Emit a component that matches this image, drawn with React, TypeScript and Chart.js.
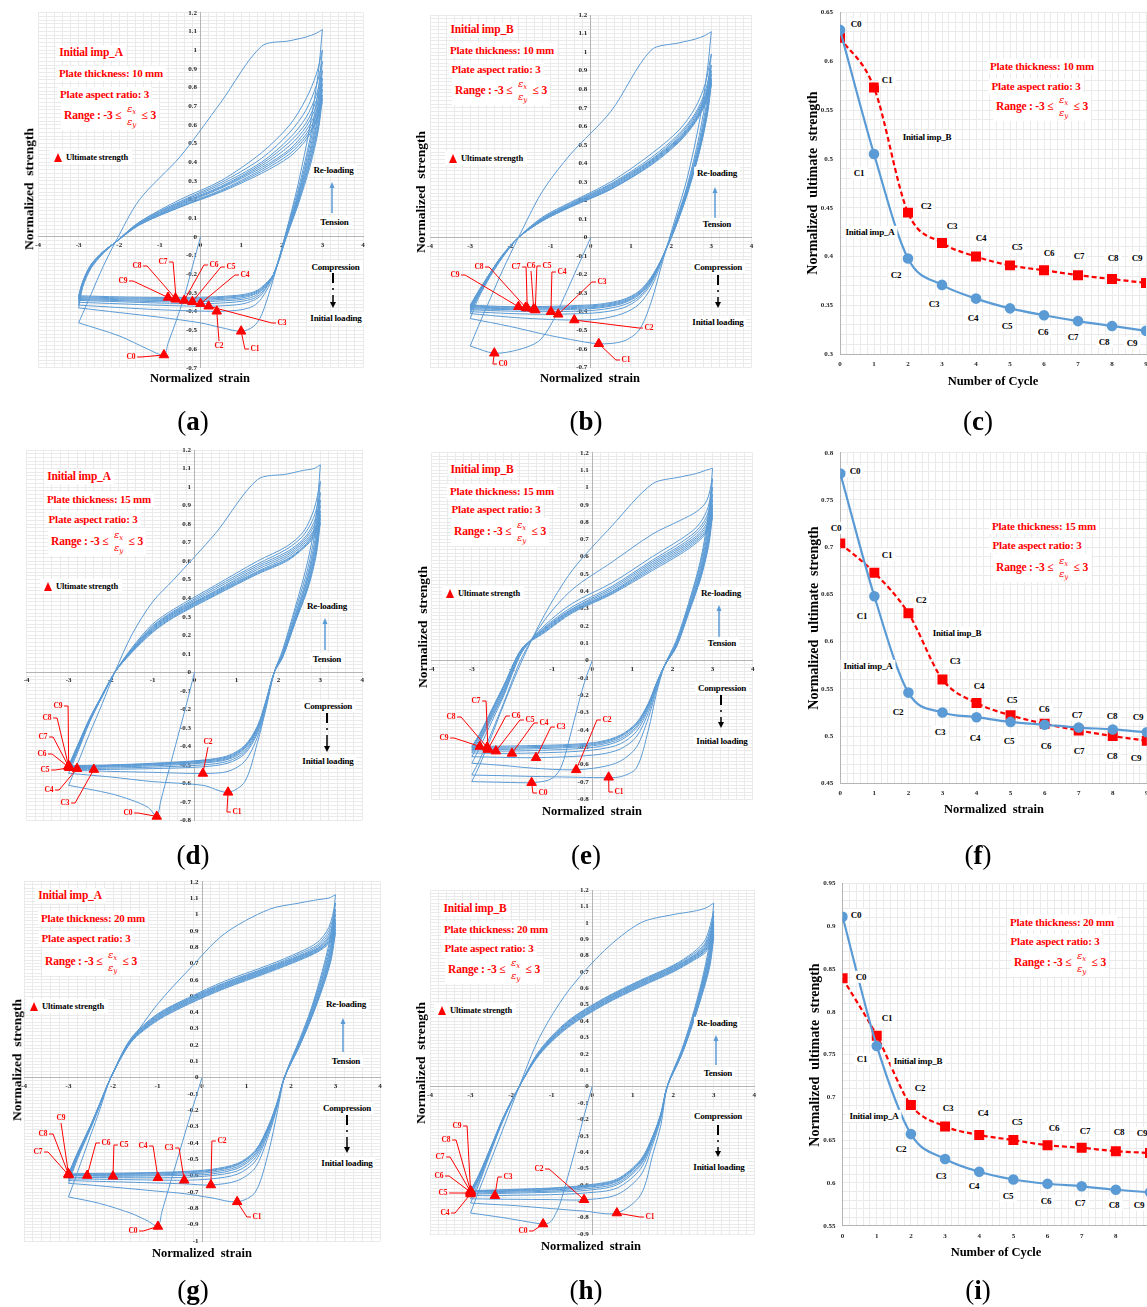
import React, { useEffect, useRef } from 'react';
import { Chart, registerables } from 'chart.js';
Chart.register(...registerables);

const SERIF = '"Liberation Serif", "Times New Roman", serif';
const BLUE = '#5b9bd5';
const RED = '#ff0000';
const GRID = '#eaeaea';
const AXIS = '#b4b4b4';
const TICK_COLOR = '#1f1f1f';

// ---------- Ultimate strength per cycle (panels c, f, i) ----------
const CYCLES = [0, 1, 2, 3, 4, 5, 6, 7, 8, 9];
const ULT_A10 = [0.632, 0.505, 0.398, 0.371, 0.357, 0.347, 0.340, 0.334, 0.329, 0.324];
const ULT_B10 = [0.624, 0.573, 0.445, 0.414, 0.400, 0.391, 0.386, 0.381, 0.377, 0.373];
const ULT_A15 = [0.778, 0.648, 0.546, 0.525, 0.520, 0.515, 0.512, 0.509, 0.507, 0.504];
const ULT_B15 = [0.704, 0.673, 0.630, 0.560, 0.535, 0.522, 0.513, 0.506, 0.500, 0.495];
const ULT_A20 = [0.911, 0.760, 0.657, 0.628, 0.613, 0.604, 0.599, 0.596, 0.592, 0.589];
const ULT_B20 = [0.839, 0.772, 0.691, 0.666, 0.656, 0.650, 0.644, 0.641, 0.637, 0.635];

// ---------- Panel (a): imp_A, 10 mm ----------
const A10_INIT_X = [0, -0.2, -0.4, -0.6, -0.8, -0.9, -1.3, -2.0, -3];
const A10_INIT_Y = [0, -0.16, -0.32, -0.45, -0.57, -0.632, -0.60, -0.53, -0.46];
const A10_TEN_X = [-3, -2.9, -2.7, -2.4, -2.1, -1.5, -0.5, 0.5, 1.5, 2.2, 2.6, 2.85, 3];
const A10_TEN_Y = [
  [-0.46, -0.41, -0.31, -0.16, -0.03, 0.20, 0.43, 0.72, 1.02, 1.05, 1.07, 1.09, 1.11],
  [-0.38, -0.27, -0.17, -0.09, -0.03, 0.08, 0.20, 0.30, 0.45, 0.60, 0.74, 0.87, 1.00],
  [-0.365, -0.26, -0.165, -0.085, -0.03, 0.08, 0.19, 0.29, 0.42, 0.56, 0.68, 0.81, 0.94],
  [-0.35, -0.255, -0.16, -0.085, -0.03, 0.075, 0.185, 0.28, 0.40, 0.53, 0.64, 0.76, 0.89],
  [-0.34, -0.25, -0.16, -0.08, -0.03, 0.075, 0.18, 0.27, 0.39, 0.51, 0.61, 0.73, 0.85],
  [-0.335, -0.25, -0.155, -0.08, -0.03, 0.07, 0.175, 0.265, 0.38, 0.49, 0.59, 0.70, 0.82],
  [-0.33, -0.245, -0.155, -0.08, -0.03, 0.07, 0.17, 0.26, 0.37, 0.47, 0.57, 0.67, 0.79],
  [-0.325, -0.245, -0.15, -0.08, -0.03, 0.07, 0.165, 0.25, 0.36, 0.46, 0.55, 0.65, 0.76],
  [-0.32, -0.24, -0.15, -0.08, -0.03, 0.065, 0.16, 0.245, 0.35, 0.445, 0.535, 0.63, 0.74],
  [-0.315, -0.24, -0.15, -0.08, -0.03, 0.065, 0.16, 0.24, 0.34, 0.43, 0.52, 0.62, 0.72],
];
const A10_COM_X = [3, 2.9, 2.7, 2.4, 2.1, 1.8, 1.5, 1.3, 1.0, 0.5, 0, -1, -2, -3];
const A10_COM_Y = [
  [1.11, 0.88, 0.60, 0.28, 0.02, -0.22, -0.42, -0.48, -0.505, -0.485, -0.46, -0.43, -0.405, -0.38],
  [1.00, 0.79, 0.53, 0.25, 0.02, -0.21, -0.33, -0.37, -0.39, -0.398, -0.397, -0.39, -0.378, -0.365],
  [0.94, 0.74, 0.50, 0.23, 0.01, -0.20, -0.31, -0.34, -0.36, -0.369, -0.371, -0.366, -0.358, -0.35],
  [0.89, 0.70, 0.47, 0.22, 0.01, -0.20, -0.30, -0.33, -0.345, -0.354, -0.357, -0.354, -0.347, -0.34],
  [0.85, 0.66, 0.45, 0.21, 0.0, -0.20, -0.29, -0.32, -0.335, -0.343, -0.346, -0.347, -0.341, -0.335],
  [0.82, 0.64, 0.43, 0.20, 0.0, -0.20, -0.285, -0.31, -0.327, -0.335, -0.339, -0.340, -0.336, -0.33],
  [0.79, 0.61, 0.41, 0.19, 0.0, -0.20, -0.28, -0.305, -0.32, -0.329, -0.333, -0.334, -0.331, -0.325],
  [0.76, 0.59, 0.40, 0.18, -0.01, -0.20, -0.275, -0.30, -0.315, -0.324, -0.328, -0.329, -0.326, -0.32],
  [0.74, 0.57, 0.38, 0.17, -0.01, -0.20, -0.27, -0.295, -0.31, -0.319, -0.323, -0.324, -0.321, -0.315],
];
const A10_ULT_X = [-0.9, 1.0, 0.4, 0.2, 0.0, -0.2, -0.4, -0.6, -0.62, -0.8];

// ---------- Panel (b): imp_B, 10 mm ----------
const B10_INIT_X = [0, -0.33, -0.66, -0.99, -1.3, -1.8, -2.4, -3];
const B10_INIT_Y = [0, -0.16, -0.32, -0.47, -0.56, -0.605, -0.624, -0.585];
const B10_TEN_X = [-3, -2.8, -2.5, -2.2, -1.8, -1.2, -0.5, 0.5, 1.5, 2.2, 2.6, 2.85, 3];
const B10_TEN_Y = [
  [-0.585, -0.48, -0.33, -0.18, 0.0, 0.25, 0.45, 0.68, 1.01, 1.05, 1.07, 1.09, 1.11],
  [-0.437, -0.33, -0.21, -0.11, 0.0, 0.11, 0.19, 0.30, 0.45, 0.58, 0.70, 0.83, 0.99],
  [-0.41, -0.32, -0.205, -0.105, 0.0, 0.105, 0.185, 0.29, 0.43, 0.56, 0.67, 0.79, 0.93],
  [-0.40, -0.315, -0.2, -0.1, 0.0, 0.1, 0.18, 0.285, 0.42, 0.55, 0.66, 0.77, 0.90],
  [-0.39, -0.31, -0.2, -0.1, 0.0, 0.1, 0.175, 0.28, 0.415, 0.54, 0.65, 0.76, 0.88],
  [-0.385, -0.305, -0.195, -0.1, 0.0, 0.1, 0.175, 0.275, 0.41, 0.535, 0.64, 0.75, 0.86],
  [-0.38, -0.3, -0.195, -0.1, 0.0, 0.095, 0.17, 0.27, 0.405, 0.53, 0.635, 0.74, 0.85],
  [-0.375, -0.3, -0.19, -0.1, 0.0, 0.095, 0.17, 0.265, 0.40, 0.525, 0.63, 0.735, 0.84],
  [-0.37, -0.295, -0.19, -0.095, 0.0, 0.09, 0.165, 0.26, 0.395, 0.52, 0.625, 0.73, 0.83],
  [-0.365, -0.29, -0.19, -0.095, 0.0, 0.09, 0.165, 0.26, 0.39, 0.515, 0.62, 0.72, 0.82],
];
const B10_COM_X = [3, 2.9, 2.7, 2.4, 2.1, 1.8, 1.5, 1.2, 0.8, 0.2, -0.5, -1.2, -2, -3];
const B10_COM_Y = [
  [1.11, 0.90, 0.62, 0.32, 0.10, -0.12, -0.35, -0.50, -0.56, -0.573, -0.55, -0.52, -0.48, -0.437],
  [0.99, 0.80, 0.55, 0.28, 0.08, -0.11, -0.27, -0.36, -0.41, -0.44, -0.445, -0.44, -0.43, -0.41],
  [0.93, 0.75, 0.52, 0.27, 0.07, -0.10, -0.25, -0.33, -0.38, -0.405, -0.412, -0.414, -0.41, -0.40],
  [0.90, 0.72, 0.50, 0.26, 0.07, -0.10, -0.24, -0.32, -0.365, -0.39, -0.398, -0.40, -0.397, -0.39],
  [0.88, 0.70, 0.49, 0.25, 0.06, -0.10, -0.235, -0.31, -0.355, -0.38, -0.388, -0.391, -0.389, -0.385],
  [0.86, 0.69, 0.48, 0.25, 0.06, -0.10, -0.23, -0.305, -0.35, -0.375, -0.383, -0.386, -0.384, -0.38],
  [0.85, 0.68, 0.47, 0.24, 0.06, -0.10, -0.225, -0.30, -0.345, -0.37, -0.378, -0.381, -0.380, -0.375],
  [0.84, 0.67, 0.46, 0.24, 0.05, -0.10, -0.22, -0.295, -0.34, -0.365, -0.373, -0.377, -0.376, -0.37],
  [0.83, 0.66, 0.46, 0.23, 0.05, -0.10, -0.215, -0.29, -0.335, -0.36, -0.368, -0.372, -0.373, -0.365],
];
const B10_ULT_X = [-2.4, 0.2, -0.41, -0.81, -0.99, -1.38, -1.42, -1.58, -1.62, -1.8];

// ---------- Panel (d): imp_A, 15 mm ----------
const A15_INIT_X = [0, -0.2, -0.4, -0.6, -0.8, -0.9, -1.1, -1.5, -2.0, -3];
const A15_INIT_Y = [0, -0.18, -0.35, -0.52, -0.69, -0.778, -0.73, -0.69, -0.655, -0.61];
const A15_TEN_X = [-3, -2.8, -2.5, -2.2, -1.9, -1.5, -1, -0.5, 0.5, 1.5, 2.2, 2.6, 2.85, 3];
const A15_TEN_Y = [
  [-0.61, -0.5, -0.33, -0.17, 0.0, 0.2, 0.38, 0.5, 0.75, 1.04, 1.07, 1.09, 1.10, 1.12],
  [-0.545, -0.44, -0.27, -0.13, 0.0, 0.13, 0.26, 0.34, 0.47, 0.60, 0.68, 0.76, 0.88, 1.03],
  [-0.53, -0.43, -0.265, -0.13, 0.0, 0.125, 0.25, 0.33, 0.46, 0.585, 0.665, 0.74, 0.84, 0.97],
  [-0.525, -0.425, -0.26, -0.13, 0.0, 0.12, 0.245, 0.325, 0.45, 0.575, 0.65, 0.72, 0.81, 0.93],
  [-0.52, -0.42, -0.26, -0.13, 0.0, 0.12, 0.24, 0.32, 0.44, 0.565, 0.64, 0.71, 0.79, 0.90],
  [-0.515, -0.415, -0.255, -0.125, 0.0, 0.115, 0.235, 0.315, 0.435, 0.555, 0.63, 0.70, 0.77, 0.87],
  [-0.512, -0.41, -0.255, -0.125, 0.0, 0.115, 0.23, 0.31, 0.43, 0.545, 0.62, 0.69, 0.76, 0.85],
  [-0.509, -0.41, -0.25, -0.125, 0.0, 0.11, 0.225, 0.305, 0.425, 0.54, 0.61, 0.68, 0.75, 0.83],
  [-0.507, -0.405, -0.25, -0.125, 0.0, 0.11, 0.22, 0.30, 0.42, 0.535, 0.605, 0.675, 0.74, 0.81],
  [-0.504, -0.4, -0.25, -0.12, 0.0, 0.105, 0.215, 0.295, 0.415, 0.53, 0.60, 0.67, 0.73, 0.80],
];
const A15_COM_X = [3, 2.9, 2.7, 2.4, 2.1, 1.9, 1.7, 1.5, 1.2, 0.8, 0.2, -1, -2, -2.4, -3];
const A15_COM_Y = [
  [1.12, 0.85, 0.60, 0.35, 0.12, 0.0, -0.2, -0.38, -0.59, -0.648, -0.61, -0.59, -0.565, -0.557, -0.545],
  [1.03, 0.79, 0.56, 0.33, 0.11, 0.0, -0.19, -0.35, -0.48, -0.535, -0.546, -0.54, -0.535, -0.532, -0.53],
  [0.97, 0.75, 0.53, 0.31, 0.10, 0.0, -0.18, -0.33, -0.44, -0.49, -0.51, -0.52, -0.524, -0.525, -0.525],
  [0.93, 0.72, 0.51, 0.30, 0.10, 0.0, -0.17, -0.32, -0.43, -0.48, -0.50, -0.512, -0.517, -0.519, -0.52],
  [0.90, 0.70, 0.50, 0.29, 0.09, 0.0, -0.17, -0.31, -0.42, -0.47, -0.49, -0.505, -0.511, -0.513, -0.515],
  [0.87, 0.68, 0.48, 0.28, 0.09, 0.0, -0.165, -0.305, -0.41, -0.465, -0.485, -0.50, -0.507, -0.51, -0.512],
  [0.85, 0.66, 0.47, 0.28, 0.09, 0.0, -0.16, -0.30, -0.405, -0.46, -0.48, -0.497, -0.504, -0.507, -0.509],
  [0.83, 0.65, 0.46, 0.27, 0.08, 0.0, -0.16, -0.295, -0.40, -0.455, -0.477, -0.494, -0.502, -0.505, -0.507],
  [0.81, 0.63, 0.45, 0.27, 0.08, 0.0, -0.155, -0.29, -0.395, -0.45, -0.474, -0.491, -0.50, -0.502, -0.504],
];
const A15_ULT_X = [-0.9, 0.8, 0.2, -2.4, -2.8, -2.98, -3, -3, -3, -3];

// ---------- Panel (e): imp_B, 15 mm ----------
const B15_INIT_X = [0, -0.2, -0.4, -0.6, -0.75, -0.9, -1.1, -1.51, -2.2, -3];
const B15_INIT_Y = [0, -0.13, -0.30, -0.48, -0.60, -0.66, -0.69, -0.704, -0.702, -0.698];
const B15_TEN_X = [-3, -2.8, -2.5, -2.2, -1.75, -1.2, -0.5, 0.5, 1.5, 2.2, 2.6, 2.85, 3];
const B15_TEN_Y = [
  [-0.698, -0.6, -0.43, -0.25, 0.0, 0.26, 0.52, 0.78, 1.02, 1.06, 1.08, 1.10, 1.11],
  [-0.66, -0.57, -0.41, -0.24, 0.02, 0.23, 0.41, 0.57, 0.73, 0.81, 0.86, 0.92, 1.05],
  [-0.592, -0.5, -0.35, -0.2, 0.05, 0.2, 0.33, 0.45, 0.6, 0.7, 0.77, 0.86, 1.0],
  [-0.554, -0.47, -0.33, -0.19, 0.05, 0.19, 0.31, 0.43, 0.58, 0.68, 0.75, 0.83, 0.96],
  [-0.533, -0.46, -0.32, -0.18, 0.06, 0.185, 0.3, 0.42, 0.57, 0.665, 0.735, 0.81, 0.93],
  [-0.521, -0.45, -0.31, -0.17, 0.06, 0.18, 0.295, 0.41, 0.56, 0.655, 0.72, 0.79, 0.90],
  [-0.512, -0.44, -0.3, -0.16, 0.065, 0.175, 0.29, 0.40, 0.55, 0.645, 0.71, 0.775, 0.88],
  [-0.505, -0.43, -0.29, -0.15, 0.07, 0.17, 0.285, 0.395, 0.54, 0.635, 0.70, 0.76, 0.86],
  [-0.499, -0.425, -0.285, -0.145, 0.07, 0.165, 0.28, 0.39, 0.53, 0.625, 0.69, 0.75, 0.84],
  [-0.495, -0.42, -0.28, -0.14, 0.07, 0.16, 0.275, 0.385, 0.52, 0.615, 0.68, 0.74, 0.82],
];
const B15_COM_X = [3, 2.9, 2.7, 2.4, 2.1, 1.8, 1.6, 1.4, 1.1, 0.7, 0.2, -0.5, -1.5, -2.2, -3];
const B15_COM_Y = [
  [1.11, 0.85, 0.58, 0.33, 0.12, -0.03, -0.19, -0.40, -0.62, -0.67, -0.675, -0.672, -0.668, -0.664, -0.66],
  [1.05, 0.81, 0.56, 0.32, 0.11, -0.03, -0.17, -0.33, -0.50, -0.58, -0.615, -0.63, -0.62, -0.605, -0.592],
  [1.0, 0.78, 0.54, 0.31, 0.10, -0.03, -0.16, -0.30, -0.44, -0.51, -0.54, -0.553, -0.56, -0.558, -0.554],
  [0.96, 0.75, 0.52, 0.30, 0.10, -0.03, -0.15, -0.28, -0.41, -0.48, -0.51, -0.525, -0.533, -0.535, -0.533],
  [0.93, 0.73, 0.51, 0.29, 0.09, -0.03, -0.145, -0.27, -0.39, -0.46, -0.495, -0.51, -0.519, -0.522, -0.521],
  [0.90, 0.71, 0.50, 0.29, 0.09, -0.03, -0.14, -0.26, -0.38, -0.45, -0.485, -0.50, -0.509, -0.512, -0.512],
  [0.88, 0.69, 0.49, 0.28, 0.09, -0.03, -0.135, -0.255, -0.37, -0.44, -0.478, -0.494, -0.502, -0.505, -0.505],
  [0.86, 0.68, 0.48, 0.28, 0.08, -0.03, -0.13, -0.25, -0.365, -0.435, -0.472, -0.488, -0.496, -0.499, -0.499],
  [0.84, 0.66, 0.47, 0.27, 0.08, -0.03, -0.13, -0.245, -0.36, -0.43, -0.467, -0.483, -0.49, -0.493, -0.495],
];
const B15_ULT_X = [-1.51, 0.41, -0.4, -1.4, -2.0, -2.4, -2.6, -2.6, -2.62, -2.8];

// ---------- Panel (g): imp_A, 20 mm ----------
const A20_INIT_X = [0, -0.25, -0.5, -0.75, -0.9, -0.99, -1.2, -1.6, -2.3, -3];
const A20_INIT_Y = [0, -0.22, -0.45, -0.68, -0.82, -0.911, -0.88, -0.83, -0.77, -0.73];
const A20_TEN_X = [-3, -2.8, -2.5, -2.3, -2.05, -1.6, -1, -0.3, 0.5, 1.5, 2.2, 2.6, 2.85, 3];
const A20_TEN_Y = [
  [-0.73, -0.58, -0.35, -0.2, 0.0, 0.22, 0.45, 0.66, 0.88, 1.03, 1.07, 1.09, 1.10, 1.12],
  [-0.647, -0.5, -0.31, -0.175, 0.0, 0.24, 0.39, 0.49, 0.59, 0.69, 0.77, 0.83, 0.92, 1.07],
  [-0.63, -0.49, -0.305, -0.17, 0.0, 0.235, 0.385, 0.485, 0.58, 0.68, 0.76, 0.815, 0.90, 1.03],
  [-0.62, -0.485, -0.3, -0.17, 0.0, 0.23, 0.38, 0.48, 0.575, 0.675, 0.75, 0.805, 0.88, 1.0],
  [-0.61, -0.48, -0.3, -0.17, 0.0, 0.23, 0.375, 0.475, 0.57, 0.67, 0.745, 0.795, 0.865, 0.97],
  [-0.60, -0.475, -0.295, -0.165, 0.0, 0.225, 0.37, 0.47, 0.565, 0.665, 0.74, 0.79, 0.855, 0.95],
  [-0.597, -0.47, -0.295, -0.165, 0.0, 0.225, 0.365, 0.465, 0.56, 0.66, 0.735, 0.785, 0.845, 0.93],
  [-0.596, -0.47, -0.29, -0.165, 0.0, 0.22, 0.36, 0.46, 0.555, 0.655, 0.73, 0.78, 0.835, 0.91],
  [-0.592, -0.465, -0.29, -0.16, 0.0, 0.22, 0.355, 0.455, 0.55, 0.65, 0.725, 0.775, 0.83, 0.89],
  [-0.589, -0.46, -0.29, -0.16, 0.0, 0.215, 0.35, 0.45, 0.545, 0.645, 0.72, 0.77, 0.82, 0.87],
];
const A20_COM_X = [3, 2.9, 2.7, 2.45, 2.2, 1.85, 1.7, 1.5, 1.2, 0.8, 0.2, -0.4, -1, -2, -2.6, -3];
const A20_COM_Y = [
  [1.12, 0.88, 0.65, 0.42, 0.24, 0.0, -0.2, -0.45, -0.7, -0.76, -0.735, -0.71, -0.695, -0.67, -0.655, -0.647],
  [1.07, 0.85, 0.63, 0.41, 0.23, 0.0, -0.17, -0.35, -0.55, -0.63, -0.657, -0.65, -0.645, -0.637, -0.633, -0.63],
  [1.03, 0.82, 0.61, 0.40, 0.22, 0.0, -0.16, -0.33, -0.51, -0.59, -0.62, -0.628, -0.627, -0.623, -0.621, -0.62],
  [1.0, 0.80, 0.60, 0.39, 0.22, 0.0, -0.155, -0.32, -0.49, -0.57, -0.60, -0.61, -0.613, -0.612, -0.611, -0.61],
  [0.97, 0.78, 0.58, 0.38, 0.21, 0.0, -0.15, -0.31, -0.475, -0.555, -0.59, -0.598, -0.601, -0.604, -0.602, -0.60],
  [0.95, 0.76, 0.57, 0.37, 0.21, 0.0, -0.15, -0.305, -0.465, -0.545, -0.58, -0.59, -0.595, -0.598, -0.599, -0.597],
  [0.93, 0.75, 0.56, 0.37, 0.20, 0.0, -0.145, -0.30, -0.455, -0.535, -0.572, -0.583, -0.589, -0.593, -0.595, -0.596],
  [0.91, 0.73, 0.55, 0.36, 0.20, 0.0, -0.145, -0.295, -0.45, -0.53, -0.567, -0.578, -0.584, -0.589, -0.591, -0.592],
  [0.89, 0.72, 0.54, 0.36, 0.20, 0.0, -0.14, -0.29, -0.445, -0.525, -0.562, -0.574, -0.58, -0.585, -0.587, -0.589],
];
const A20_ULT_X = [-0.99, 0.79, 0.2, -0.4, -0.99, -2.0, -2.58, -3, -3, -3];

// ---------- Panel (h): imp_B, 20 mm ----------
const B20_INIT_X = [0, -0.2, -0.4, -0.6, -0.8, -0.95, -1.05, -1.21, -1.6, -2.2, -3];
const B20_INIT_Y = [0, -0.18, -0.37, -0.55, -0.72, -0.80, -0.83, -0.839, -0.825, -0.80, -0.772];
const B20_TEN_X = [-3, -2.8, -2.5, -2.2, -1.8, -1.3, -0.6, 0.3, 1.2, 2.0, 2.5, 2.8, 3];
const B20_TEN_Y = [
  [-0.772, -0.64, -0.45, -0.26, 0.0, 0.3, 0.58, 0.83, 1.0, 1.05, 1.07, 1.09, 1.12],
  [-0.711, -0.6, -0.4, -0.21, 0.0, 0.22, 0.4, 0.54, 0.65, 0.74, 0.82, 0.9, 1.07],
  [-0.685, -0.585, -0.39, -0.205, 0.0, 0.215, 0.395, 0.535, 0.645, 0.735, 0.81, 0.88, 1.04],
  [-0.665, -0.57, -0.385, -0.2, 0.0, 0.21, 0.39, 0.53, 0.64, 0.73, 0.8, 0.87, 1.01],
  [-0.656, -0.565, -0.38, -0.2, 0.0, 0.21, 0.385, 0.525, 0.635, 0.725, 0.795, 0.86, 0.99],
  [-0.65, -0.56, -0.38, -0.2, 0.0, 0.205, 0.38, 0.52, 0.63, 0.72, 0.79, 0.85, 0.97],
  [-0.644, -0.555, -0.375, -0.195, 0.0, 0.205, 0.375, 0.515, 0.625, 0.715, 0.785, 0.845, 0.95],
  [-0.641, -0.55, -0.375, -0.195, 0.0, 0.2, 0.37, 0.51, 0.62, 0.71, 0.78, 0.835, 0.93],
  [-0.637, -0.545, -0.37, -0.195, 0.0, 0.2, 0.365, 0.505, 0.615, 0.705, 0.775, 0.83, 0.91],
  [-0.635, -0.54, -0.37, -0.19, 0.0, 0.195, 0.36, 0.5, 0.61, 0.70, 0.77, 0.82, 0.90],
];
const B20_COM_X = [3, 2.9, 2.7, 2.45, 2.2, 1.85, 1.7, 1.5, 1.2, 0.61, -0.2, -1, -2, -2.4, -3];
const B20_COM_Y = [
  [1.12, 0.88, 0.64, 0.41, 0.22, 0.0, -0.23, -0.41, -0.66, -0.772, -0.76, -0.745, -0.725, -0.72, -0.711],
  [1.07, 0.85, 0.62, 0.40, 0.21, 0.0, -0.19, -0.35, -0.54, -0.66, -0.691, -0.69, -0.688, -0.687, -0.685],
  [1.04, 0.83, 0.61, 0.39, 0.21, 0.0, -0.18, -0.33, -0.50, -0.62, -0.65, -0.66, -0.664, -0.666, -0.665],
  [1.01, 0.81, 0.60, 0.38, 0.20, 0.0, -0.175, -0.32, -0.48, -0.60, -0.635, -0.645, -0.651, -0.653, -0.656],
  [0.99, 0.79, 0.59, 0.38, 0.20, 0.0, -0.17, -0.315, -0.47, -0.59, -0.625, -0.638, -0.645, -0.647, -0.650],
  [0.97, 0.78, 0.58, 0.37, 0.20, 0.0, -0.165, -0.31, -0.46, -0.58, -0.617, -0.631, -0.639, -0.641, -0.644],
  [0.95, 0.76, 0.57, 0.37, 0.19, 0.0, -0.165, -0.305, -0.455, -0.575, -0.612, -0.627, -0.635, -0.638, -0.641],
  [0.93, 0.75, 0.56, 0.36, 0.19, 0.0, -0.16, -0.30, -0.45, -0.57, -0.607, -0.622, -0.631, -0.634, -0.637],
  [0.91, 0.73, 0.55, 0.36, 0.19, 0.0, -0.16, -0.30, -0.445, -0.565, -0.603, -0.619, -0.628, -0.631, -0.635],
];
const B20_ULT_X = [-1.21, 0.61, -0.2, -2.4, -3, -3, -3, -3, -3, -3];

// ---------- Callout label anchors (page px) ----------
const A10_LABELS = [[131, 357], [255, 349], [219, 346], [282, 323], [245, 275], [231, 267], [214, 265], [163, 262], [137, 266], [123, 281]];
const B10_LABELS = [[503, 364], [626, 360], [649, 328], [602, 282], [562, 272], [547, 266], [531, 266], [516, 267], [479, 267], [455, 275]];
const A15_LABELS = [[128, 813], [237, 812], [208, 742], [65, 803], [49, 790], [45, 770], [42, 754], [43, 737], [47, 718], [58, 706]];
const B15_LABELS = [[543, 793], [619, 792], [607, 720], [561, 727], [544, 723], [530, 720], [516, 716], [476, 701], [451, 717], [444, 738]];
const A20_LABELS = [[133, 1231], [257, 1217], [222, 1141], [169, 1148], [143, 1146], [124, 1145], [106, 1143], [38, 1152], [43, 1134], [61, 1118]];
const B20_LABELS = [[523, 1231], [650, 1217], [539, 1169], [508, 1177], [445, 1213], [443, 1193], [439, 1176], [440, 1157], [446, 1140], [457, 1126]];

const neg = (a) => a.map((v) => -v);

const HYST = [
  { box: [0, 0, 390, 380], plot: [38, 363, 12.7, 367.7], yMin: -0.7, initX: A10_INIT_X, initY: A10_INIT_Y, tx: A10_TEN_X, ten: A10_TEN_Y, cx: A10_COM_X, com: A10_COM_Y, ultX: A10_ULT_X, ultY: neg(ULT_A10), labels: A10_LABELS },
  { box: [390, 0, 400, 380], plot: [430, 751.5, 15, 367.3], yMin: -0.7, initX: B10_INIT_X, initY: B10_INIT_Y, tx: B10_TEN_X, ten: B10_TEN_Y, cx: B10_COM_X, com: B10_COM_Y, ultX: B10_ULT_X, ultY: neg(ULT_B10), labels: B10_LABELS },
  { box: [0, 440, 390, 390], plot: [26.7, 362.3, 450, 820.5], yMin: -0.8, initX: A15_INIT_X, initY: A15_INIT_Y, tx: A15_TEN_X, ten: A15_TEN_Y, cx: A15_COM_X, com: A15_COM_Y, ultX: A15_ULT_X, ultY: neg(ULT_A15), labels: A15_LABELS },
  { box: [390, 440, 400, 380], plot: [431.7, 752.7, 452.7, 799.3], yMin: -0.8, initX: B15_INIT_X, initY: B15_INIT_Y, tx: B15_TEN_X, ten: B15_TEN_Y, cx: B15_COM_X, com: B15_COM_Y, ultX: B15_ULT_X, ultY: neg(ULT_B15), labels: B15_LABELS },
  { box: [0, 870, 400, 385], plot: [24, 380, 881.7, 1241], yMin: -1, initX: A20_INIT_X, initY: A20_INIT_Y, tx: A20_TEN_X, ten: A20_TEN_Y, cx: A20_COM_X, com: A20_COM_Y, ultX: A20_ULT_X, ultY: neg(ULT_A20), labels: A20_LABELS },
  { box: [390, 870, 400, 380], plot: [430, 754.3, 890, 1234], yMin: -0.9, initX: B20_INIT_X, initY: B20_INIT_Y, tx: B20_TEN_X, ten: B20_TEN_Y, cx: B20_COM_X, com: B20_COM_Y, ultX: B20_ULT_X, ultY: neg(ULT_B20), labels: B20_LABELS },
];

const CYC = [
  { box: [790, 0, 380, 380], plot: [840, 1146, 12.3, 354.3], yMin: 0.3, yMax: 0.65, a: ULT_A10, b: ULT_B10 },
  { box: [790, 440, 380, 370], plot: [840.3, 1146.8, 452.7, 783.3], yMin: 0.45, yMax: 0.8, a: ULT_A15, b: ULT_B15 },
  { box: [790, 870, 380, 380], plot: [842.6, 1150, 883.3, 1225.7], yMin: 0.55, yMax: 0.95, a: ULT_A20, b: ULT_B20 },
];

const TICK_FONT = { family: SERIF, size: 7, weight: 'bold' };
const padOf = (box, plot) => ({ left: plot[0] - box[0], right: box[0] + box[2] - plot[1], top: plot[2] - box[1], bottom: box[1] + box[3] - plot[3] });

function HystChart({ p }) {
  const ref = useRef(null);
  useEffect(() => {
    const [bl, bt] = p.box;
    const line = (xs, ys) => ({ data: xs.map((x, i) => ({ x, y: ys[i] })), borderColor: BLUE, borderWidth: 1, pointRadius: 0, tension: 0.3, showLine: true, fill: false });
    const datasets = [
      { data: p.ultX.map((x, i) => ({ x, y: p.ultY[i] })), showLine: false, pointStyle: 'triangle', pointRadius: 5.5, pointBackgroundColor: RED, pointBorderColor: RED, borderColor: RED, backgroundColor: RED },
      line(p.initX, p.initY),
      ...p.ten.map((r) => line(p.tx, r)),
      ...p.com.map((r) => line(p.cx, r)),
    ];
    const callouts = {
      id: 'callouts',
      afterDatasetsDraw(chart) {
        const ctx = chart.ctx;
        const xs = chart.scales.x;
        const ys = chart.scales.y;
        ctx.save();
        ctx.font = `bold 7.5px ${SERIF}`;
        ctx.fillStyle = RED;
        ctx.strokeStyle = RED;
        ctx.lineWidth = 1;
        ctx.textAlign = 'center';
        ctx.textBaseline = 'middle';
        p.labels.forEach((pos, i) => {
          const lx = pos[0] - bl;
          const ly = pos[1] - bt;
          const px = xs.getPixelForValue(p.ultX[i]);
          const py = ys.getPixelForValue(p.ultY[i]);
          const text = 'C' + i;
          const w = ctx.measureText(text).width;
          ctx.fillText(text, lx, ly);
          const dx = px - lx;
          const dy = py - ly;
          ctx.beginPath();
          if (Math.abs(dx) > w / 2 + 4) {
            const sx = lx + Math.sign(dx) * (w / 2 + 1.5);
            ctx.moveTo(sx, ly);
            ctx.lineTo(sx + Math.sign(dx) * 4, ly);
          } else {
            ctx.moveTo(lx, ly + Math.sign(dy) * 5);
          }
          ctx.lineTo(px, py);
          ctx.stroke();
        });
        ctx.restore();
      },
    };
    const chart = new Chart(ref.current, {
      type: 'line',
      data: { datasets },
      options: {
        responsive: false,
        animation: false,
        events: [],
        layout: { padding: padOf(p.box, p.plot) },
        plugins: { legend: { display: false }, tooltip: { enabled: false } },
        scales: {
          x: {
            type: 'linear', min: -4, max: 4, position: { y: 0 },
            ticks: {
              stepSize: 0.2, autoSkip: false, maxRotation: 0, font: TICK_FONT, color: TICK_COLOR, padding: 4,
              callback: (v) => (Math.abs(v - Math.round(v)) < 1e-6 ? String(Math.round(v)) : ''),
            },
            grid: { color: GRID, drawTicks: false, lineWidth: 1 },
            border: { color: AXIS, width: 1 },
          },
          y: {
            type: 'linear', min: p.yMin, max: 1.2, position: { x: 0 },
            ticks: {
              stepSize: 0.02, autoSkip: false, font: TICK_FONT, color: TICK_COLOR,
              callback: (v) => { const r = Math.round(v * 10); return Math.abs(v * 10 - r) < 1e-6 ? String(r / 10) + '  ' : ''; },
            },
            grid: { color: GRID, drawTicks: false, lineWidth: 1 },
            border: { color: AXIS, width: 1 },
          },
        },
      },
      plugins: [callouts],
    });
    return () => chart.destroy();
  }, []);
  return <canvas ref={ref} width={p.box[2]} height={p.box[3]} style={{ position: 'absolute', left: p.box[0], top: p.box[1], width: p.box[2], height: p.box[3] }} />;
}

function CycleChart({ p }) {
  const ref = useRef(null);
  useEffect(() => {
    const chart = new Chart(ref.current, {
      type: 'line',
      data: {
        datasets: [
          { data: CYCLES.map((c, i) => ({ x: c, y: p.a[i] })), borderColor: BLUE, borderWidth: 2.2, pointRadius: 4.2, pointBackgroundColor: BLUE, pointBorderColor: BLUE, cubicInterpolationMode: 'monotone', fill: false },
          { data: CYCLES.map((c, i) => ({ x: c, y: p.b[i] })), borderColor: RED, borderWidth: 2.2, borderDash: [5, 3], pointStyle: 'rect', pointRadius: 5.5, pointBackgroundColor: RED, pointBorderColor: RED, cubicInterpolationMode: 'monotone', fill: false },
        ],
      },
      options: {
        responsive: false,
        animation: false,
        events: [],
        layout: { padding: padOf(p.box, p.plot) },
        plugins: { legend: { display: false }, tooltip: { enabled: false } },
        scales: {
          x: {
            type: 'linear', min: 0, max: 9, position: { y: p.yMin },
            ticks: {
              stepSize: 0.2, autoSkip: false, maxRotation: 0, font: TICK_FONT, color: TICK_COLOR, padding: 6,
              callback: (v) => (Math.abs(v - Math.round(v)) < 1e-6 ? String(Math.round(v)) : ''),
            },
            grid: { color: GRID, drawTicks: false },
            border: { color: AXIS, width: 1 },
          },
          y: {
            type: 'linear', min: p.yMin, max: p.yMax, position: { x: 0 },
            ticks: {
              stepSize: 0.01, autoSkip: false, font: TICK_FONT, color: TICK_COLOR,
              callback: (v) => { const r = Math.round(v * 20); return Math.abs(v * 20 - r) < 1e-6 ? String(Math.round(v * 100) / 100) + '    ' : ''; },
            },
            grid: { color: GRID, drawTicks: false },
            border: { color: AXIS, width: 1 },
          },
        },
      },
    });
    return () => chart.destroy();
  }, []);
  return <canvas ref={ref} width={p.box[2]} height={p.box[3]} style={{ position: 'absolute', left: p.box[0], top: p.box[1], width: p.box[2], height: p.box[3] }} />;
}

// ---------- overlay text helpers ----------
const T = ({ x, y, s = 11, c = RED, bg = true, ls = -0.2, rot = false, children }) => (
  <div style={{ position: 'absolute', left: x, top: y, transform: rot ? 'translate(-50%, -50%) rotate(-90deg)' : 'translate(-50%, -50%)', fontFamily: SERIF, fontWeight: 'bold', fontSize: s, color: c, whiteSpace: 'pre', background: bg ? '#fff' : 'transparent', padding: bg ? '1px 3px' : 0, letterSpacing: ls, lineHeight: 1.15 }}>{children}</div>
);

const Sub = ({ ch }) => <span style={{ fontSize: 7, position: 'relative', top: 2 }}>{ch}</span>;

const Range = ({ x, y }) => (
  <T x={x} y={y} s={11.5}>
    {'Range : -3 ≤ '}
    <span style={{ display: 'inline-flex', flexDirection: 'column', alignItems: 'center', verticalAlign: 'middle', fontStyle: 'italic', fontWeight: 'normal', fontFamily: '"DejaVu Serif", serif', fontSize: 10, lineHeight: '12px', margin: '0 3px' }}>
      <span>ε<Sub ch="x" /></span>
      <span>ε<Sub ch="y" /></span>
    </span>
    {' ≤ 3'}
  </T>
);

const UltLegend = ({ x, y }) => (
  <div style={{ position: 'absolute', left: x - 8, top: y, transform: 'translateY(-50%)', display: 'flex', alignItems: 'center', gap: 4, background: '#fff', padding: '2px 4px', fontFamily: SERIF, fontWeight: 'bold', fontSize: 8.5, color: '#000', whiteSpace: 'nowrap', letterSpacing: -0.1 }}>
    <span style={{ width: 0, height: 0, borderLeft: '4.5px solid transparent', borderRight: '4.5px solid transparent', borderBottom: '9px solid ' + RED }} />
    Ultimate strength
  </div>
);

const Letter = ({ x, y, l }) => (
  <div style={{ position: 'absolute', left: x, top: y, transform: 'translate(-50%, -50%)', fontFamily: SERIF, fontSize: 27, color: '#000', whiteSpace: 'nowrap' }}>(<b>{l}</b>)</div>
);

const HYST_TEXT = [
  { imp: 'Initial imp_A', th: '10 mm', pImp: [91, 53], pTh: [111, 73], pAr: [104.5, 94], pRg: [110, 116], pUlt: [58, 157], pRel: [333.5, 170], pTen: [334.5, 222], pComp: [335.5, 267], pIl: [336, 318], pXt: [200, 378], pYt: [29, 189], pL: [193, 421], l: 'a' },
  { imp: 'Initial imp_B', th: '10 mm', pImp: [482, 30], pTh: [502, 50], pAr: [496, 69], pRg: [501, 91], pUlt: [453, 158], pRel: [717, 173], pTen: [717, 224], pComp: [718, 267], pIl: [718, 322], pXt: [590, 378], pYt: [421, 192], pL: [586, 421], l: 'b' },
  { imp: 'Initial imp_A', th: '15 mm', pImp: [79, 477], pTh: [99, 499], pAr: [93, 519], pRg: [97, 542], pUlt: [48, 586], pRel: [327, 606], pTen: [327, 659], pComp: [328, 706], pIl: [328, 761], pXt: null, pYt: null, pL: [193, 855], l: 'd' },
  { imp: 'Initial imp_B', th: '15 mm', pImp: [482, 470], pTh: [502, 491], pAr: [496, 509], pRg: [500, 532], pUlt: [450, 593], pRel: [721, 593], pTen: [722, 643], pComp: [722, 688], pIl: [722, 741], pXt: [592, 811], pYt: [423, 627], pL: [586, 855], l: 'e' },
  { imp: 'Initial imp_A', th: '20 mm', pImp: [70, 896], pTh: [93, 918], pAr: [86, 938], pRg: [91, 962], pUlt: [34, 1006], pRel: [346, 1004], pTen: [346, 1061], pComp: [347, 1108], pIl: [347, 1163], pXt: [202, 1253], pYt: [17, 1060], pL: [193, 1290], l: 'g' },
  { imp: 'Initial imp_B', th: '20 mm', pImp: [475, 909], pTh: [496, 929], pAr: [489, 948], pRg: [494, 970], pUlt: [442, 1010], pRel: [717, 1023], pTen: [718, 1073], pComp: [718, 1116], pIl: [719, 1167], pXt: [591, 1246], pYt: [421, 1063], pL: [586, 1290], l: 'h' },
];

const CYC_TEXT = [
  { th: '10 mm', pTh: [1042, 66], pAr: [1036, 86], pRg: [1042, 107], pB: [927, 137], pA: [870, 232], xt: 'Number of Cycle', pXt: [993, 381], pYt: [813, 183], pL: [978, 421], l: 'c',
    blue: [[856, 24], [859, 173], [896, 275], [934, 304], [973, 318], [1007, 326], [1043, 332], [1073, 337], [1104, 342], [1132, 343]],
    red: [null, [887, 80], [926, 206], [952, 226], [981, 238], [1017, 247], [1049, 253], [1079, 256], [1113, 258], [1137, 258]] },
  { th: '15 mm', pTh: [1044, 526], pAr: [1037, 545], pRg: [1042, 568], pB: [957, 633], pA: [868, 666], xt: 'Normalized  strain', pXt: [994, 809], pYt: [814, 618], pL: [978, 855], l: 'f',
    blue: [[855, 471], [862, 616], [898, 712], [940, 732], [975, 738], [1009, 741], [1046, 746], [1079, 751], [1112, 756], [1136, 758]],
    red: [[836, 528], [887, 555], [921, 600], [955, 661], [979, 686], [1012, 700], [1044, 709], [1077, 715], [1112, 716], [1138, 717]] },
  { th: '20 mm', pTh: [1062, 922], pAr: [1055, 941], pRg: [1060, 963], pB: [918, 1061], pA: [874, 1116], xt: 'Number of Cycle', pXt: [996, 1252], pYt: [815, 1055], pL: [978, 1290], l: 'i',
    blue: [[856, 915], [862, 1059], [901, 1149], [941, 1176], [974, 1186], [1008, 1196], [1046, 1201], [1080, 1203], [1114, 1205], [1139, 1205]],
    red: [[861, 977], [887, 1018], [920, 1088], [948, 1108], [983, 1113], [1017, 1122], [1054, 1128], [1085, 1131], [1119, 1132], [1142, 1133]] },
];

const BLUE_ARROWS = [[332, 213, 182], [715, 218, 187], [325, 650, 618], [719, 637, 605], [343, 1052, 1018], [716, 1065, 1035]];
const DASH_ARROWS = [[333, 273, 308], [718, 275, 308], [327, 713, 752], [721, 695, 728], [347, 1115, 1153], [718, 1125, 1157]];

export default function App() {
  return (
    <div style={{ position: 'absolute', left: 0, top: 0, width: 1147, height: 1307, overflow: 'hidden', background: '#fff' }}>
      {HYST.map((p, i) => <HystChart key={'h' + i} p={p} />)}
      {CYC.map((p, i) => <CycleChart key={'c' + i} p={p} />)}
      <svg width={1147} height={1307} style={{ position: 'absolute', left: 0, top: 0, pointerEvents: 'none' }}>
        {BLUE_ARROWS.map(([x, y1, y2], i) => (
          <g key={'ba' + i}>
            <line x1={x} y1={y1} x2={x} y2={y2 + 5} stroke={BLUE} strokeWidth={1.5} />
            <polygon points={`${x - 2.5},${y2 + 6} ${x + 2.5},${y2 + 6} ${x},${y2}`} fill={BLUE} />
          </g>
        ))}
        {DASH_ARROWS.map(([x, y1, y2], i) => (
          <g key={'da' + i}>
            <line x1={x} y1={y1} x2={x} y2={y1 + 10} stroke="#000" strokeWidth={2} />
            <circle cx={x} cy={y1 + 16} r={1} fill="#000" />
            <line x1={x} y1={y1 + 22} x2={x} y2={y2 - 5} stroke="#000" strokeWidth={1.5} />
            <polygon points={`${x - 3},${y2 - 6} ${x + 3},${y2 - 6} ${x},${y2}`} fill="#000" />
          </g>
        ))}
      </svg>
      {HYST_TEXT.map((t, i) => (
        <React.Fragment key={'ht' + i}>
          <T x={t.pImp[0]} y={t.pImp[1]} s={11.5}>{t.imp}</T>
          <T x={t.pTh[0]} y={t.pTh[1]}>{'Plate thickness: ' + t.th}</T>
          <T x={t.pAr[0]} y={t.pAr[1]}>{'Plate aspect ratio: 3'}</T>
          <Range x={t.pRg[0]} y={t.pRg[1]} />
          <UltLegend x={t.pUlt[0]} y={t.pUlt[1]} />
          <T x={t.pRel[0]} y={t.pRel[1]} s={9} c="#000">Re-loading</T>
          <T x={t.pTen[0]} y={t.pTen[1]} s={9} c="#000">Tension</T>
          <T x={t.pComp[0]} y={t.pComp[1]} s={9} c="#000">Compression</T>
          <T x={t.pIl[0]} y={t.pIl[1]} s={9} c="#000">Initial loading</T>
          {t.pXt && <T x={t.pXt[0]} y={t.pXt[1]} s={12.5} c="#000" bg={false} ls={0}>{'Normalized  strain'}</T>}
          {t.pYt && <T x={t.pYt[0]} y={t.pYt[1]} s={13.5} c="#000" bg={false} ls={0} rot>{'Normalized  strength'}</T>}
          <Letter x={t.pL[0]} y={t.pL[1]} l={t.l} />
        </React.Fragment>
      ))}
      {CYC_TEXT.map((t, i) => (
        <React.Fragment key={'ct' + i}>
          <T x={t.pTh[0]} y={t.pTh[1]}>{'Plate thickness: ' + t.th}</T>
          <T x={t.pAr[0]} y={t.pAr[1]}>{'Plate aspect ratio: 3'}</T>
          <Range x={t.pRg[0]} y={t.pRg[1]} />
          <T x={t.pB[0]} y={t.pB[1]} s={9} c="#000">Initial imp_B</T>
          <T x={t.pA[0]} y={t.pA[1]} s={9} c="#000">Initial imp_A</T>
          {t.blue.map((q, k) => <T key={'b' + k} x={q[0]} y={q[1]} s={9} c="#000">{'C' + k}</T>)}
          {t.red.map((q, k) => (q ? <T key={'r' + k} x={q[0]} y={q[1]} s={9} c="#000">{'C' + k}</T> : null))}
          <T x={t.pXt[0]} y={t.pXt[1]} s={12.5} c="#000" bg={false} ls={0}>{t.xt}</T>
          <T x={t.pYt[0]} y={t.pYt[1]} s={14} c="#000" bg={false} ls={0} rot>{'Normalized  ultimate  strength'}</T>
          <Letter x={t.pL[0]} y={t.pL[1]} l={t.l} />
        </React.Fragment>
      ))}
    </div>
  );
}
